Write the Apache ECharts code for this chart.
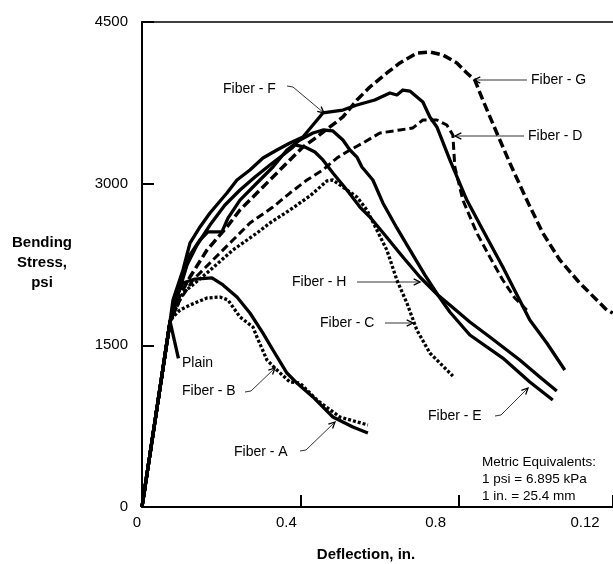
<!DOCTYPE html>
<html>
<head>
<meta charset="utf-8">
<script src="https://cdn.jsdelivr.net/npm/echarts@6/dist/echarts.min.js"></script>
<style>
html,body{margin:0;padding:0;background:#fff;}
#chart{width:613px;height:564px;}
</style>
</head>
<body>
<div id="chart"></div>
<script>
// ---- data (deflection, bending stress psi) ----
const yTicks = [0, 1500, 3000, 4500];
const xTickLabels = ['0', '0.4', '0.8', '0.12'];

const plain = [[0,0],[0.071,1720],[0.092,1380]];

const fiberA = [[0,0],[0.0707,1716],[0.0884,1967],[0.1035,2078],[0.1338,2115],[0.1768,2125],[0.2045,2060],
  [0.2399,1948],[0.2727,1800],[0.3056,1614],[0.3308,1457],[0.3662,1243],[0.3914,1150],[0.4318,1021],
  [0.4823,835],[0.5328,742],[0.5707,687]];

const fiberB = [[0,0],[0.0707,1716],[0.0783,1763],[0.096,1828],[0.1212,1874],[0.1641,1939],[0.197,1948],
  [0.2172,1921],[0.2475,1763],[0.2803,1670],[0.2904,1577],[0.3157,1364],[0.3409,1271],[0.3737,1160],
  [0.399,1150],[0.4419,993],[0.5,835],[0.5707,761]];

const fiberC = [[0,0],[0.0707,1716],[0.1035,1986],[0.1641,2171],[0.2298,2385],[0.2904,2542],[0.3232,2635],
  [0.3737,2756],[0.4242,2886],[0.4672,3025],[0.4823,3034],[0.5,2988],[0.543,2876],[0.5682,2756],
  [0.5934,2570],[0.6187,2384],[0.6439,2106],[0.6692,1893],[0.6944,1642],[0.7273,1429],[0.7854,1215]];

const fiberD = [[0,0],[0.0707,1716],[0.096,1921],[0.1288,2106],[0.1793,2292],[0.2298,2477],[0.2727,2635],
  [0.3308,2783],[0.3737,2913],[0.4167,3034],[0.4571,3127],[0.4924,3238],[0.5253,3312],[0.5581,3377],
  [0.601,3470],[0.6515,3498],[0.6843,3517],[0.7096,3591],[0.745,3591],[0.7702,3544],[0.7854,3452],
  [0.7904,3155],[0.8106,2848],[0.846,2542],[0.8788,2320],[0.9116,2106],[0.9419,1939],[0.9722,1828]];

const fiberE = [[0,0],[0.0707,1716],[0.096,2060],[0.1212,2338],[0.1465,2477],[0.1667,2552],[0.202,2552],
  [0.2172,2681],[0.2475,2848],[0.2904,3006],[0.3308,3155],[0.3662,3312],[0.399,3405],[0.4318,3470],
  [0.4571,3498],[0.4823,3489],[0.5076,3405],[0.5253,3312],[0.543,3247],[0.5556,3155],[0.5833,3034],
  [0.6086,2821],[0.6439,2589],[0.6768,2385],[0.7146,2153],[0.7475,1967],[0.7778,1809],[0.8283,1596],
  [0.9116,1382],[0.9798,1160],[1.0379,993]];

const fiberF = [[0,0],[0.0707,1716],[0.0783,1921],[0.1035,2199],[0.1212,2449],[0.1465,2598],[0.1717,2728],
  [0.2146,2913],[0.2399,3034],[0.2727,3127],[0.3056,3238],[0.3409,3312],[0.3737,3377],[0.4066,3433],
  [0.4571,3656],[0.5076,3683],[0.543,3730],[0.588,3776],[0.6263,3841],[0.644,3823],[0.6591,3869],
  [0.6768,3859],[0.7096,3758],[0.7273,3619],[0.745,3526],[0.7778,3220],[0.8207,2848],[0.8611,2570],
  [0.9116,2227],[0.9798,1735],[1.0227,1522],[1.0682,1271]];

const fiberG = [[0,0],[0.0707,1716],[0.096,1967],[0.1212,2134],[0.1641,2384],[0.2146,2598],[0.2475,2756],
  [0.2904,2913],[0.3308,3062],[0.3737,3220],[0.4066,3340],[0.4419,3433],[0.4747,3526],[0.5076,3619],
  [0.543,3776],[0.5758,3897],[0.6187,4027],[0.6515,4120],[0.6944,4212],[0.7273,4222],[0.7601,4194],
  [0.7955,4120],[0.8207,4027],[0.8409,3962],[0.8611,3776],[0.8965,3470],[0.9293,3192],[0.9722,2848],
  [1.0126,2542],[1.0556,2292],[1.1061,2078],[1.1742,1828],[1.1894,1800]];

const fiberH = [[0,0],[0.0707,1716],[0.0909,1967],[0.1136,2245],[0.1389,2431],[0.1717,2616],[0.2096,2802],
  [0.2475,2941],[0.2854,3062],[0.3232,3173],[0.3561,3266],[0.3788,3331],[0.3864,3359],[0.4116,3340],
  [0.4369,3294],[0.4571,3220],[0.4823,3099],[0.5177,2941],[0.5505,2783],[0.5758,2691],[0.6136,2524],
  [0.6591,2320],[0.702,2134],[0.7475,1967],[0.7778,1874],[0.8283,1716],[0.8788,1577],[0.9545,1364],
  [1.005,1206],[1.048,1076]];

// ---- chart ----
const FONT = "'Liberation Sans', Arial, Helvetica, sans-serif";
const chart = echarts.init(document.getElementById('chart'), null, {renderer: 'canvas'});

function line(name, data, type, width) {
  return {
    name: name, type: 'line', data: data, xAxisIndex: 0, yAxisIndex: 0,
    symbol: 'none', silent: true, animation: false, clip: true, smooth: false,
    lineStyle: {color: '#000', width: width, type: type, cap: 'butt', join: 'round'}
  };
}

function arrowHead(tail, tip) {
  const dx = tip[0] - tail[0], dy = tip[1] - tail[1];
  const len = Math.sqrt(dx*dx + dy*dy);
  const ux = dx/len, uy = dy/len, L = 7, a = 0.45;
  const c = Math.cos(a), s = Math.sin(a);
  const p1 = [tip[0] - L*(ux*c - uy*s), tip[1] - L*(uy*c + ux*s)];
  const p2 = [tip[0] - L*(ux*c + uy*s), tip[1] - L*(uy*c - ux*s)];
  return {type: 'polyline', shape: {points: [p1, tip, p2]}, style: {stroke: '#000', lineWidth: 1.3, fill: null}, z: 50};
}
function leader(points) {
  const els = [{type: 'polyline', shape: {points: points}, style: {stroke: '#000', lineWidth: 0.8, fill: null}, z: 50}];
  els.push(arrowHead(points[points.length-2], points[points.length-1]));
  return els;
}
function txt(t, x, y, size, bold, align) {
  return {type: 'text', x: x, y: y, z: 60, style: {text: t, fill: '#000', font: (bold ? 'bold ' : '') + size + 'px ' + FONT,
    textAlign: align || 'left', textVerticalAlign: 'middle'}};
}

const annotations = [
  {label: 'Fiber - F', at: [223, 89], path: [[287,86],[293,87],[324,113]]},
  {label: 'Fiber - G', at: [531, 80], path: [[527,80],[474,80]]},
  {label: 'Fiber - D', at: [528, 136], path: [[524,136],[455,136]]},
  {label: 'Fiber - H', at: [292, 282], path: [[357,282],[420,282]]},
  {label: 'Fiber - C', at: [320, 323], path: [[385,323],[413,323]]},
  {label: 'Fiber - E', at: [428, 416], path: [[495,416],[501,415],[528,388]]},
  {label: 'Fiber - A', at: [234, 452], path: [[300,451],[306,450],[335,422]]},
  {label: 'Fiber - B', at: [182, 391], path: [[245,392],[251,391],[275,368]]},
  {label: 'Plain', at: [182, 363], path: null}
];

const graphics = [];
annotations.forEach(a => {
  graphics.push(txt(a.label, a.at[0], a.at[1], 14, false));
  if (a.path) leader(a.path).forEach(e => graphics.push(e));
});
graphics.push(txt('Metric Equivalents:', 482, 462, 13.5, false));
graphics.push(txt('1 psi = 6.895 kPa', 482, 479, 13.5, false));
graphics.push(txt('1 in. = 25.4 mm', 482, 496, 13.5, false));
graphics.push(txt('Bending', 42, 243, 15, true, 'center'));
graphics.push(txt('Stress,', 42, 263, 15, true, 'center'));
graphics.push(txt('psi', 42, 283, 15, true, 'center'));
graphics.push(txt('Deflection, in.', 366, 555, 15, true, 'center'));

const option = {
  animation: false,
  backgroundColor: '#fff',
  grid: [
    {left: 142, right: 0, top: 22, bottom: 57, outerBoundsMode: 'none', containLabel: false},
    {left: 137, right: 28, top: 22, bottom: 57, outerBoundsMode: 'none', containLabel: false}
  ],
  xAxis: [
    {gridIndex: 0, type: 'value', min: 0, max: 1.19, interval: 0.4,
     axisLine: {show: true, onZero: false, lineStyle: {color: '#000', width: 2}},
     axisTick: {show: true, inside: true, length: 12, lineStyle: {color: '#000', width: 2}},
     axisLabel: {show: false}, splitLine: {show: false}},
    {gridIndex: 0, type: 'value', position: 'top', min: 0, max: 1.19,
     axisLine: {show: true, onZero: false, lineStyle: {color: '#000', width: 1.5}},
     axisTick: {show: false}, axisLabel: {show: false}, splitLine: {show: false}},
    {gridIndex: 1, type: 'value', min: 0, max: 1.2, interval: 0.4,
     axisLine: {show: false}, axisTick: {show: false}, splitLine: {show: false},
     axisLabel: {show: true, margin: 8, color: '#000', fontSize: 15, fontFamily: FONT,
       formatter: v => xTickLabels[Math.round(v / 0.4)] || ''}}
  ],
  yAxis: [
    {gridIndex: 0, type: 'value', min: yTicks[0], max: yTicks[yTicks.length-1], interval: 1500,
     axisLine: {show: true, onZero: false, lineStyle: {color: '#000', width: 2}},
     axisTick: {show: true, inside: true, length: 12, lineStyle: {color: '#000', width: 2}},
     axisLabel: {show: true, margin: 14, color: '#000', fontSize: 15, fontFamily: FONT,
       formatter: v => String(v)},
     splitLine: {show: false}},
    {gridIndex: 1, type: 'value', min: 0, max: 4500, show: false}
  ],
  series: [
    line('Plain', plain, 'solid', 3.3),
    line('Fiber - A', fiberA, 'solid', 3.3),
    line('Fiber - B', fiberB, [3, 2], 3.3),
    line('Fiber - C', fiberC, [3, 2], 3.3),
    line('Fiber - D', fiberD, [8, 4], 3),
    line('Fiber - E', fiberE, 'solid', 3.3),
    line('Fiber - F', fiberF, 'solid', 3.3),
    line('Fiber - G', fiberG, [9, 4], 3.5),
    line('Fiber - H', fiberH, 'solid', 3.3)
  ],
  graphic: graphics
};
chart.setOption(option);
</script>
</body>
</html>
